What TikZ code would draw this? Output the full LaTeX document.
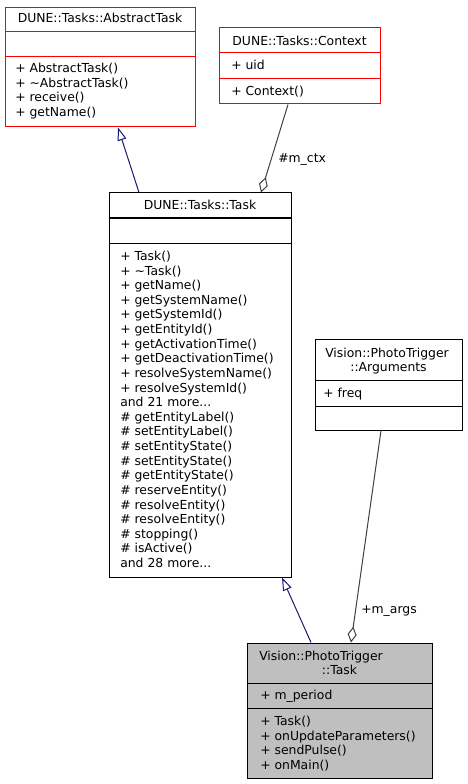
\documentclass[tikz,border=0pt]{standalone}
\usepackage{fontspec}
\setmainfont{DejaVu Sans}
\usetikzlibrary{arrows.meta}
\definecolor{edgeblue}{HTML}{191970}
\definecolor{edgegray}{HTML}{404040}
\definecolor{boxgray}{HTML}{BFBFBF}
\newcommand{\moreA}{and 21 more...}
\newcommand{\moreB}{and 28 more...}
\begin{document}
\begin{tikzpicture}[x=0.75pt,y=-0.75pt,
  font=\fontsize{9.3}{11}\selectfont,
  box/.style={draw=black, rectangle, inner sep=0pt, line width=0.75pt, fill=white},
  redbox/.style={box, draw=red},
  txt/.style={anchor=base west, inner sep=0pt},
  ctxt/.style={anchor=base, inner sep=0pt},
  sepline/.style={line width=0.75pt},
  inherit/.style={draw=edgeblue, line width=0.75pt, -{Triangle[open, length=9.75pt, width=6.75pt, fill=white]}},
  aggr/.style={draw=edgegray, line width=0.75pt, -{Diamond[open, length=12pt, width=6.75pt, fill=white]}}]
\useasboundingbox (0,0) rectangle (467,784);
\fill[white] (0,0) rectangle (467,784);

% ---- DUNE::Tasks::AbstractTask
\node[redbox, minimum width=142.5pt, minimum height=89.25pt] (abs) at (100,67.5) {};
\draw[sepline, red] (5,32) -- (195,32);
\draw[sepline, red] (5,57) -- (195,57);
\node[ctxt] (absT) at (100,22.5) {DUNE::Tasks::AbstractTask};
\foreach \t [count=\i from 0] in {{+ AbstractTask()}, {+ \textasciitilde AbstractTask()}, {+ receive()}, {+ getName()}}
  \node[txt] (absm\i) at (15,72.5+\i*14.6) {\t};

% ---- DUNE::Tasks::Context
\node[redbox, minimum width=120.75pt, minimum height=57pt] (ctx) at (299.5,66) {};
\draw[sepline, red] (219,53) -- (380,53);
\draw[sepline, red] (219,79) -- (380,79);
\node[ctxt] (ctxT) at (299.5,45.5) {DUNE::Tasks::Context};
\node[txt] (ctxa) at (231,69.5) {+ uid};
\node[txt] (ctxm) at (231,95.5) {+ Context()};

% ---- DUNE::Tasks::Task
\node[box, minimum width=136.5pt, minimum height=288pt] (task) at (200,385) {};
\draw[sepline] (109,218) -- (291,218);
\draw[sepline] (109,243) -- (291,243);
\node[ctxt] (taskT) at (200,209.5) {DUNE::Tasks::Task};
\foreach \t [count=\i from 0] in {{+ Task()}, {+ \textasciitilde Task()}, {+ getName()}, {+ getSystemName()},
  {+ getSystemId()}, {+ getEntityId()}, {+ getActivationTime()}, {+ getDeactivationTime()},
  {+ resolveSystemName()}, {+ resolveSystemId()}, {\moreA}, {\# getEntityLabel()},
  {\# setEntityLabel()}, {\# setEntityState()}, {\# setEntityState()}, {\# getEntityState()},
  {\# reserveEntity()}, {\# resolveEntity()}, {\# resolveEntity()}, {\# stopping()},
  {\# isActive()}, {\moreB}}
  \node[txt] (taskm\i) at (120,260.5+\i*14.62) {\t};

% ---- Vision::PhotoTrigger::Arguments
\node[box, minimum width=110.25pt, minimum height=68.25pt] (args) at (388.5,384.5) {};
\draw[sepline] (315,380) -- (462,380);
\draw[sepline] (315,406) -- (462,406);
\node[txt] (argsT1) at (325,357) {Vision::PhotoTrigger};
\node[ctxt] (argsT2) at (388.5,371.5) {::Arguments};
\node[txt] (argsa) at (323,397.5) {+ freq};

% ---- Vision::PhotoTrigger::Task
\node[box, fill=boxgray, minimum width=138.75pt, minimum height=101.25pt] (ptt) at (339.5,710.5) {};
\draw[sepline] (247,683) -- (432,683);
\draw[sepline] (247,708) -- (432,708);
\node[txt] (pttT1) at (259,660) {Vision::PhotoTrigger};
\node[ctxt] (pttT2) at (339.5,674.5) {::Task};
\node[txt] (ptta) at (260,699) {+ m\_period};
\foreach \t [count=\i from 0] in {{+ Task()}, {+ onUpdateParameters()}, {+ sendPulse()}, {+ onMain()}}
  \node[txt] (pttm\i) at (260,725.5+\i*14.5) {\t};

% ---- connectors
\draw[inherit] ([xshift=-45.75pt]task.north) -- ([xshift=13.5pt]abs.south);
\draw[inherit] ([xshift=-21.375pt]ptt.north) -- ([xshift=61.5pt]task.south);
\draw[aggr] ([xshift=-8.625pt]ctx.south) -- ([xshift=45.75pt]task.north);
\draw[aggr] ([xshift=-5.625pt]args.south) -- ([xshift=8.625pt]ptt.north);
\node[txt] (lctx) at (278,162.5) {\#m\_ctx};
\node[txt] (largs) at (361,613.5) {+m\_args};
\end{tikzpicture}
\end{document}
